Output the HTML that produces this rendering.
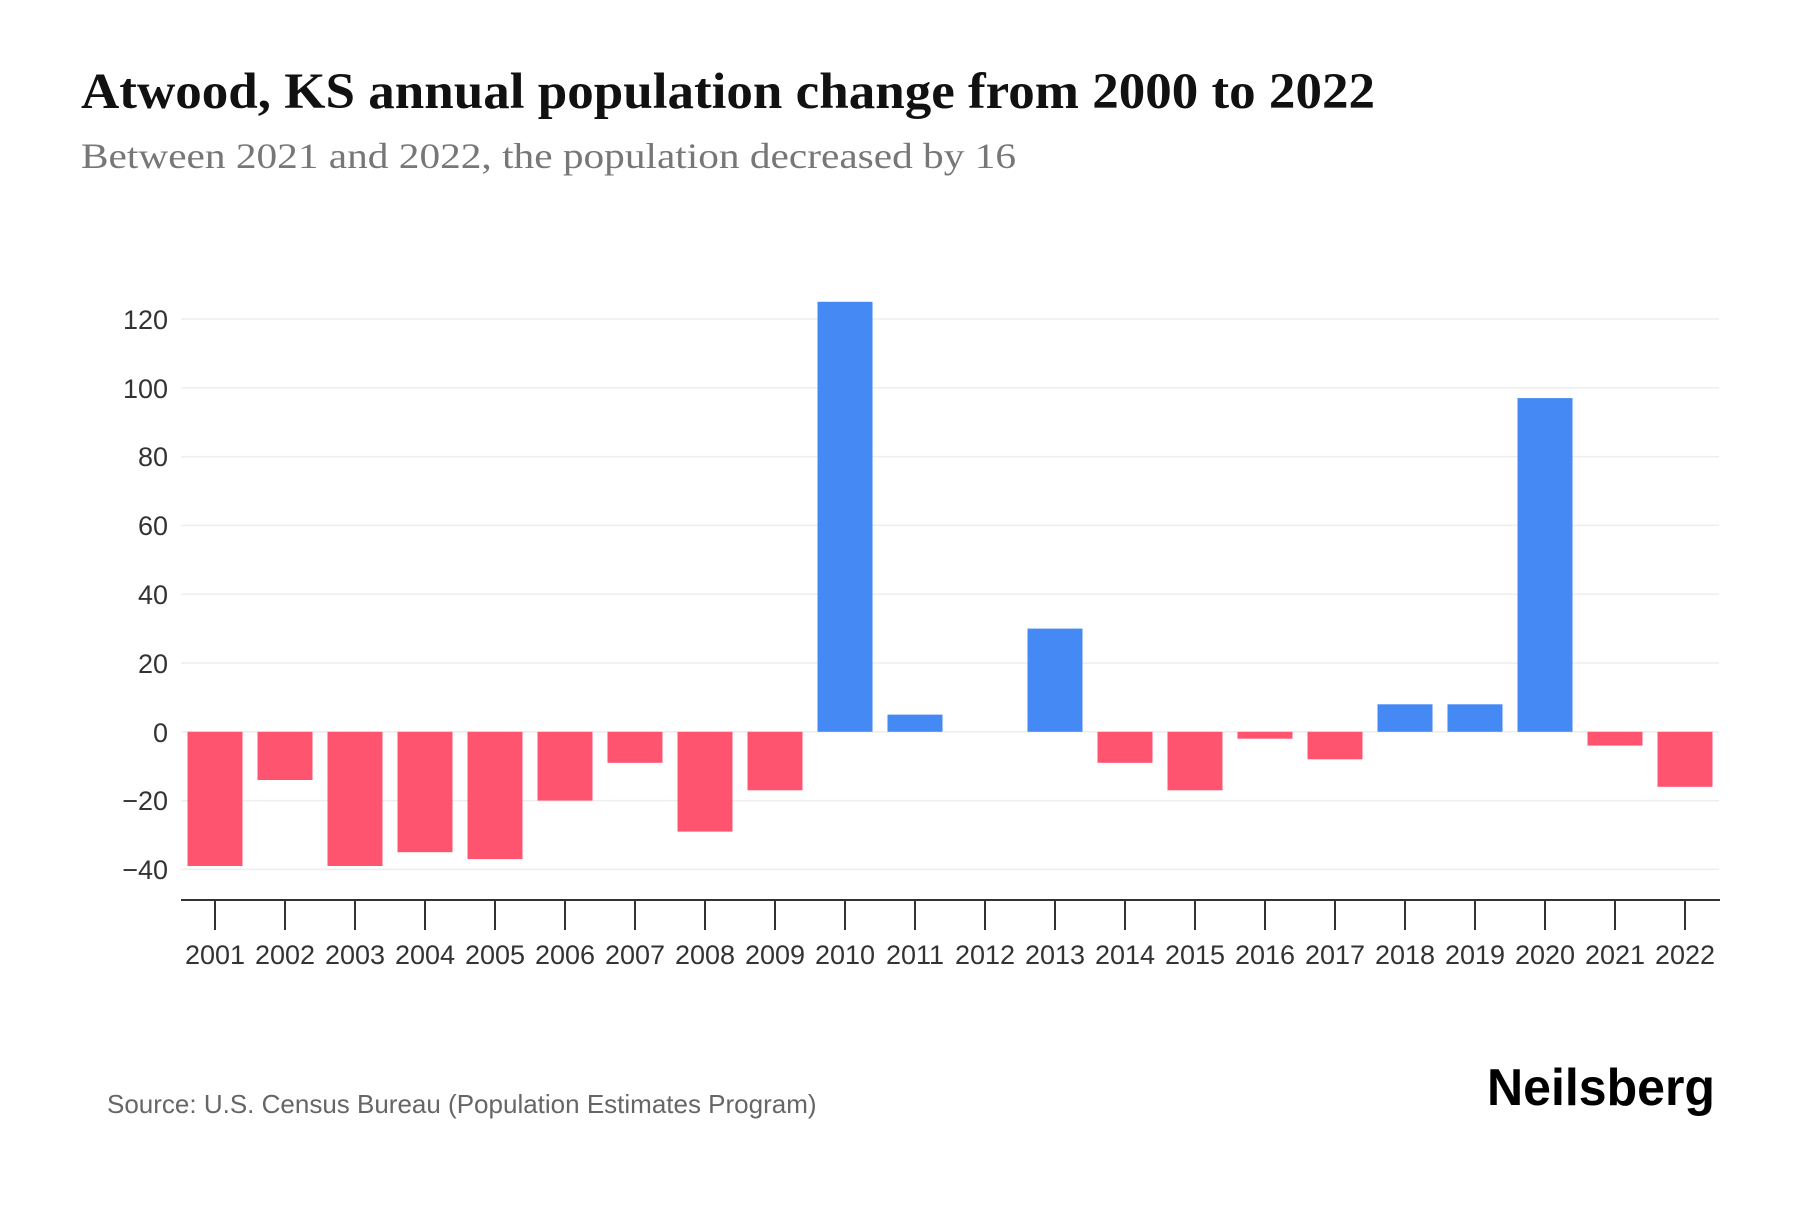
<!DOCTYPE html>
<html><head><meta charset="utf-8"><style>
body{margin:0;background:#fff;}
svg text{font-family:"Liberation Sans",sans-serif;}
</style></head><body>
<svg width="1800" height="1200" xmlns="http://www.w3.org/2000/svg">
<text x="81" y="108" textLength="1294" lengthAdjust="spacingAndGlyphs" style="font-family:'Liberation Serif',serif;font-weight:bold;font-size:51px;fill:#111">Atwood, KS annual population change from 2000 to 2022</text>
<text x="81" y="168" textLength="935" lengthAdjust="spacingAndGlyphs" style="font-family:'Liberation Serif',serif;font-size:36px;fill:#777">Between 2021 and 2022, the population decreased by 16</text>
<g stroke="#eeeeee" stroke-width="1.5">
<line x1="181" x2="1719" y1="319" y2="319"/><line x1="181" x2="1719" y1="387.8" y2="387.8"/><line x1="181" x2="1719" y1="456.6" y2="456.6"/><line x1="181" x2="1719" y1="525.4" y2="525.4"/><line x1="181" x2="1719" y1="594.2" y2="594.2"/><line x1="181" x2="1719" y1="663" y2="663"/><line x1="181" x2="1719" y1="731.8" y2="731.8"/><line x1="181" x2="1719" y1="800.6" y2="800.6"/><line x1="181" x2="1719" y1="869.4" y2="869.4"/>
</g>
<g font-size="27" fill="#333" text-anchor="end">
<text x="168" y="329">120</text><text x="168" y="398">100</text><text x="168" y="466">80</text><text x="168" y="535">60</text><text x="168" y="604">40</text><text x="168" y="673">20</text><text x="168" y="742">0</text><text x="168" y="810">−20</text><text x="168" y="879">−40</text>
</g>
<g fill="#ff5470">
<rect x="187.5" y="731.8" width="55" height="134.2"/>
<rect x="257.5" y="731.8" width="55" height="48.2"/>
<rect x="327.5" y="731.8" width="55" height="134.2"/>
<rect x="397.5" y="731.8" width="55" height="120.4"/>
<rect x="467.5" y="731.8" width="55" height="127.3"/>
<rect x="537.5" y="731.8" width="55" height="68.8"/>
<rect x="607.5" y="731.8" width="55" height="31"/>
<rect x="677.5" y="731.8" width="55" height="99.8"/>
<rect x="747.5" y="731.8" width="55" height="58.5"/>
<rect x="1097.5" y="731.8" width="55" height="31"/>
<rect x="1167.5" y="731.8" width="55" height="58.5"/>
<rect x="1237.5" y="731.8" width="55" height="6.9"/>
<rect x="1307.5" y="731.8" width="55" height="27.5"/>
<rect x="1587.5" y="731.8" width="55" height="13.8"/>
<rect x="1657.5" y="731.8" width="55" height="55"/>
</g>
<g fill="#4589f5">
<rect x="817.5" y="301.8" width="55" height="430"/>
<rect x="887.5" y="714.6" width="55" height="17.2"/>
<rect x="1027.5" y="628.6" width="55" height="103.2"/>
<rect x="1377.5" y="704.3" width="55" height="27.5"/>
<rect x="1447.5" y="704.3" width="55" height="27.5"/>
<rect x="1517.5" y="398.1" width="55" height="333.7"/>
</g>
<line x1="181" x2="1720" y1="900" y2="900" stroke="#333" stroke-width="2"/>
<g stroke="#333" stroke-width="2">
<line x1="215" x2="215" y1="900" y2="930"/><line x1="285" x2="285" y1="900" y2="930"/><line x1="355" x2="355" y1="900" y2="930"/><line x1="425" x2="425" y1="900" y2="930"/><line x1="495" x2="495" y1="900" y2="930"/><line x1="565" x2="565" y1="900" y2="930"/><line x1="635" x2="635" y1="900" y2="930"/><line x1="705" x2="705" y1="900" y2="930"/><line x1="775" x2="775" y1="900" y2="930"/><line x1="845" x2="845" y1="900" y2="930"/><line x1="915" x2="915" y1="900" y2="930"/><line x1="985" x2="985" y1="900" y2="930"/><line x1="1055" x2="1055" y1="900" y2="930"/><line x1="1125" x2="1125" y1="900" y2="930"/><line x1="1195" x2="1195" y1="900" y2="930"/><line x1="1265" x2="1265" y1="900" y2="930"/><line x1="1335" x2="1335" y1="900" y2="930"/><line x1="1405" x2="1405" y1="900" y2="930"/><line x1="1475" x2="1475" y1="900" y2="930"/><line x1="1545" x2="1545" y1="900" y2="930"/><line x1="1615" x2="1615" y1="900" y2="930"/><line x1="1685" x2="1685" y1="900" y2="930"/>
</g>
<g font-size="27" fill="#333" text-anchor="middle">
<text x="215" y="964">2001</text><text x="285" y="964">2002</text><text x="355" y="964">2003</text><text x="425" y="964">2004</text><text x="495" y="964">2005</text><text x="565" y="964">2006</text><text x="635" y="964">2007</text><text x="705" y="964">2008</text><text x="775" y="964">2009</text><text x="845" y="964">2010</text><text x="915" y="964">2011</text><text x="985" y="964">2012</text><text x="1055" y="964">2013</text><text x="1125" y="964">2014</text><text x="1195" y="964">2015</text><text x="1265" y="964">2016</text><text x="1335" y="964">2017</text><text x="1405" y="964">2018</text><text x="1475" y="964">2019</text><text x="1545" y="964">2020</text><text x="1615" y="964">2021</text><text x="1685" y="964">2022</text>
</g>
<text x="107" y="1113" font-size="26" fill="#666">Source: U.S. Census Bureau (Population Estimates Program)</text>
<text x="1487" y="1105" textLength="228" lengthAdjust="spacingAndGlyphs" style="font-family:'Liberation Sans',sans-serif;font-weight:bold;font-size:52px;fill:#000">Neilsberg</text>
</svg>
</body></html>
